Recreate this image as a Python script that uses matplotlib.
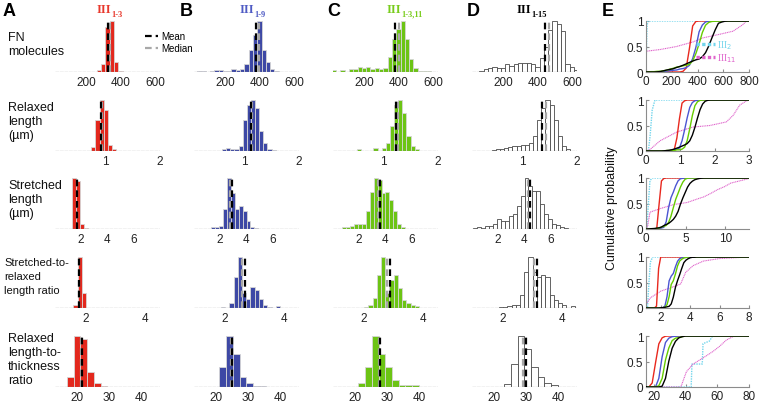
import numpy as np
import matplotlib.pyplot as plt
from matplotlib.lines import Line2D

W, H = 760, 406

# bin edges, one set per row
fn_edges = 12.5 + 25 * np.arange(26)
rl_edges = 0.075 * np.arange(1, 28)
sl_edges = 0.15 + 0.3 * np.arange(28)
ratio_edges = np.arange(7, 33) / 7
lt_edges = 2.1 * np.arange(7, 23)

# counts (relative bar heights) for III1-3, III1-9, III1-3,11, III1-15
fn_13 = [0, 0, 0, 0, 0, 0, 0, 0, 0, 0, 3, 15, 88, 100, 20, 2, 0, 0, 0, 0, 0, 0, 0, 0, 0]
fn_19 = [0, 1, 1, 0, 1, 3, 3, 2, 2, 6, 3, 6, 15, 43, 72, 100, 43, 20, 5, 1, 0, 0, 0, 0, 0]
fn_1311 = [3, 0, 3, 0, 5, 5, 10, 7, 10, 5, 7, 5, 8, 30, 65, 85, 100, 65, 25, 8, 2, 1, 1, 0, 0]
fn_115 = [0, 0, 2, 5, 8, 10, 7, 8, 15, 12, 15, 17, 17, 17, 15, 10, 27, 50, 82, 100, 95, 80, 15, 10, 3]

rl_13 = [0, 0, 0, 0, 0, 0, 0, 0, 0, 8, 60, 100, 80, 12, 4, 0, 0, 0, 0, 0, 0, 0, 0, 0, 0, 0]
rl_19 = [0, 0, 0, 0, 0, 0, 0, 3, 5, 4, 3, 10, 60, 90, 100, 85, 40, 15, 4, 2, 0, 0, 0, 0, 0, 0]
rl_1311 = [0, 0, 0, 0, 0, 0, 4, 0, 0, 0, 5, 0, 5, 15, 50, 90, 100, 75, 30, 10, 3, 0, 0, 0, 0, 0]
rl_115 = [0, 0, 0, 0, 0, 2, 3, 3, 5, 8, 10, 10, 12, 12, 15, 30, 60, 85, 100, 90, 60, 30, 10, 3, 0, 0]

sl_13 = [0, 0, 0, 0, 100, 95, 10, 2] + [0] * 19
sl_19 = [0, 0, 0, 0, 3, 4, 5, 40, 100, 70, 40, 45, 35, 15, 3, 2] + [0] * 11
sl_1311 = [0, 0, 3, 3, 5, 10, 10, 10, 35, 72, 100, 97, 70, 72, 57, 35, 10, 3] + [0] * 9
sl_115 = [2, 3, 2, 5, 5, 10, 20, 15, 15, 25, 30, 45, 65, 100, 85, 75, 75, 50, 30, 20, 10, 8, 4, 2, 0, 0, 0]

ratio_13 = [0, 0, 0, 0, 5, 100, 30] + [0] * 18
ratio_19 = [0, 0, 0, 0, 0, 0, 2, 0, 10, 60, 100, 30, 17, 42, 35, 17, 5, 2, 0, 3, 0, 0, 0, 0, 0]
ratio_1311 = [0, 0, 0, 0, 0, 0, 0, 2, 5, 20, 65, 100, 30, 55, 65, 40, 15, 10, 5, 3, 0, 0, 0, 0, 0]
ratio_115 = [0, 0, 0, 0, 0, 0, 2, 2, 3, 5, 5, 25, 70, 100, 70, 60, 65, 60, 25, 15, 10, 5, 0, 3, 0]

lt_13 = [0, 20, 100, 95, 30, 8, 1, 0, 0, 0, 0, 0, 0, 0, 0]
lt_19 = [0, 0, 0, 40, 100, 65, 20, 7, 2, 1, 0, 0, 0, 0, 0]
lt_1311 = [0, 0, 0, 7, 40, 100, 65, 40, 13, 4, 4, 4, 0, 0, 0]
lt_115 = [0, 0, 0, 0, 5, 45, 100, 75, 40, 20, 7, 4, 0, 0, 0]

# mean / median per construct
fn_mean = [330, 382, 379, 442]
fn_median = [337, 395, 402, 468]
rl_mean = [0.93, 1.12, 1.23, 1.37]
rl_median = [0.94, 1.14, 1.27, 1.43]
sl_mean = [1.72, 2.97, 3.6, 4.45]
sl_median = [1.75, 2.8, 3.5, 4.3]
ratio_mean = [1.77, 2.68, 2.88, 3.15]
ratio_median = [1.76, 2.57, 2.78, 3.05]
lt_mean = [21.5, 24.9, 27.9, 29.9]
lt_median = [21.1, 24.5, 27.5, 28.9]

# cumulative curves of the single domains III2 and III11
iii2_fn_x = [0, 3, 8, 15, 800]
iii2_fn_y = [0, 0.4, 0.9, 1, 1]
iii11_fn_x = [0, 3, 10, 108, 237, 366, 444, 573, 676, 753, 779, 800]
iii11_fn_y = [0, 0.39, 0.41, 0.44, 0.5, 0.59, 0.67, 0.74, 0.8, 0.93, 1, 1]
iii2_rl_x = [0, 0.07, 0.12, 0.18, 0.26, 3]
iii2_rl_y = [0, 0, 0.3, 0.8, 1, 1]
iii11_rl_x = [0, 0.1, 0.41, 0.89, 1.37, 1.86, 2.34, 2.54, 2.73, 2.92, 3]
iii11_rl_y = [0, 0.02, 0.2, 0.37, 0.47, 0.5, 0.57, 0.7, 0.9, 0.98, 1]
iii2_sl_x = [0, 0.1, 0.3, 0.5, 0.8, 13]
iii2_sl_y = [0, 0, 0.5, 0.95, 1, 1]
iii11_sl_x = [0, 0.2, 0.5, 1.8, 3.5, 5.2, 6.5, 7.3, 8.2, 9, 9.9, 10.7, 12, 13]
iii11_sl_y = [0, 0.05, 0.33, 0.4, 0.48, 0.52, 0.59, 0.63, 0.7, 0.77, 0.83, 0.9, 0.95, 0.99]
iii2_ratio_x = [1, 1.1, 1.2, 1.3, 1.45, 8]
iii2_ratio_y = [0, 0, 0.5, 0.9, 1, 1]
iii11_ratio_x = [1, 1.3, 2.0, 2.7, 3.35, 3.7, 4.2, 4.9, 6, 8]
iii11_ratio_y = [0.07, 0.2, 0.33, 0.4, 0.47, 0.7, 0.83, 0.92, 0.97, 1]
iii2_lt_x = [15, 43.5, 44, 50.5, 51, 55, 57, 80]
iii2_lt_y = [0, 0, 0.45, 0.45, 0.85, 0.9, 1, 1]
iii11_lt_x = [15, 37, 40.5, 44.7, 51, 57.4, 61.5, 65.7, 70, 80]
iii11_lt_y = [0, 0, 0.3, 0.45, 0.57, 0.7, 0.8, 0.92, 0.99, 1]

row_labels = ["FN\nmolecules", "Relaxed\nlength\n(\u00b5m)", "Stretched\nlength\n(\u00b5m)",
              "Stretched-to-\nrelaxed\nlength ratio", "Relaxed\nlength-to-\nthickness\nratio"]

rows = [
    (fn_edges, [fn_13, fn_19, fn_1311, fn_115], fn_mean, fn_median, (20, 630), [200, 400, 600],
     (0, 800), [0, 200, 400, 600, 800], (iii2_fn_x, iii2_fn_y), (iii11_fn_x, iii11_fn_y)),
    (rl_edges, [rl_13, rl_19, rl_1311, rl_115], rl_mean, rl_median, (0.09, 2.0), [1, 2],
     (0, 3), [0, 1, 2, 3], (iii2_rl_x, iii2_rl_y), (iii11_rl_x, iii11_rl_y)),
    (sl_edges, [sl_13, sl_19, sl_1311, sl_115], sl_mean, sl_median, (0.1, 8.0), [2, 4, 6],
     (0, 13), [0, 5, 10], (iii2_sl_x, iii2_sl_y), (iii11_sl_x, iii11_sl_y)),
    (ratio_edges, [ratio_13, ratio_19, ratio_1311, ratio_115], ratio_mean, ratio_median, (0.95, 4.5), [2, 4],
     (1, 8), [2, 4, 6, 8], (iii2_ratio_x, iii2_ratio_y), (iii11_ratio_x, iii11_ratio_y)),
    (lt_edges, [lt_13, lt_19, lt_1311, lt_115], lt_mean, lt_median, (13, 46), [20, 30, 40],
     (15, 80), [20, 40, 60, 80], (iii2_lt_x, iii2_lt_y), (iii11_lt_x, iii11_lt_y)),
]

face_colors = ["#e3281d", "#3d48a5", "#6cc414", "white"]
edge_colors = ["#d6d6d6", "#d6d6d6", "#d6d6d6", "#4a4a4a"]
line_colors = ["#e8281e", "#4b55d2", "#66cc00", "black"]
title_colors = ["#e8382c", "#4f5bc4", "#78cc1c", "black"]
title_subs = ["1-3", "1-9", "1-3,11", "1-15"]
cyan = "#72d5ec"
magenta = "#df63cb"

plt.rcParams["font.family"] = ["Liberation Sans", "DejaVu Sans"]

fig = plt.figure(figsize=(W / 100, H / 100), dpi=100)

row_base = [73, 152, 230, 309, 388]
row_h = 51
col_left = [55, 194, 333, 472]
col_w = 105
e_left, e_w = 646, 103


def px_axes(left, base, width, height):
    return fig.add_axes([left / W, 1 - base / H, width / W, height / H])


top_axes = []
for r, (edges, counts, means, medians, xlim, ticks, exlim, exticks, c2, c11) in enumerate(rows):
    for c in range(4):
        ax = px_axes(col_left[c], row_base[r], col_w, row_h)
        cnt = np.asarray(counts[c], dtype=float)
        ax.bar(edges[:-1], cnt, width=np.diff(edges), align="edge",
               color=face_colors[c], edgecolor=edge_colors[c], linewidth=0.6, zorder=2)
        ax.axhline(0, color="#9a9a9a", lw=0.9, ls=(0, (3, 0.6)), zorder=3)
        ax.axvline(medians[c], color="#a8a8a8", lw=1.6, ls=(0, (3, 1.8)), zorder=4)
        ax.axvline(means[c], color="black", lw=1.6, ls=(0, (3, 1.8)), zorder=4)
        ax.set_xlim(*xlim)
        ax.set_ylim(0, cnt.max())
        ax.set_xticks(ticks)
        ax.set_xticklabels([f"{t:g}" for t in ticks])
        ax.set_yticks([])
        ax.tick_params(axis="x", length=0, pad=3, labelsize=8.5, labelcolor="#222222")
        for s in ax.spines.values():
            s.set_visible(False)
        if r == 0:
            top_axes.append(ax)

    # cumulative distributions
    ax = px_axes(e_left, row_base[r], e_w, row_h)
    for c in range(4):
        cnt = np.asarray(counts[c], dtype=float)
        cdf = np.concatenate([[0], np.cumsum(cnt) / cnt.sum()])
        xs = np.concatenate([[exlim[0]], edges, [exlim[1]]])
        ys = np.concatenate([[0], cdf, [1]])
        ax.plot(xs, ys, color=line_colors[c], lw=1.0, zorder=3)
    ax.plot(c2[0], c2[1], color=cyan, lw=1.0, ls=(0, (1, 0.8)), zorder=2)
    ax.plot(c11[0], c11[1], color=magenta, lw=0.8, ls=(0, (1, 0.6)), zorder=2)
    ax.set_xlim(*exlim)
    ax.set_ylim(0, 1)
    ax.set_xticks(exticks)
    ax.set_yticks([0, 0.5, 1])
    ax.set_yticklabels(["0", "0.5", "1"])
    ax.spines["top"].set_visible(False)
    ax.spines["right"].set_visible(False)
    ax.spines["left"].set_color("#8c8c8c")
    ax.spines["bottom"].set_color("#8c8c8c")
    ax.tick_params(direction="in", length=2, color="#8c8c8c", labelsize=8.5, labelcolor="#222222", pad=2)
    if r == 0:
        key = [Line2D([], [], color=cyan, lw=2.4, ls=(0, (1, 0.7)), label="III$_2$"),
               Line2D([], [], color=magenta, lw=2.4, ls=(0, (1, 0.7)), label="III$_{11}$")]
        leg = ax.legend(handles=key, loc="lower right", bbox_to_anchor=(0.93, 0.06), frameon=False,
                        handlelength=2.0, handletextpad=0.2, labelspacing=0.05, borderpad=0,
                        prop={"family": "Liberation Serif", "size": 7})
        for t, col in zip(leg.get_texts(), [cyan, magenta]):
            t.set_color(col)

# row labels
row_centres = [45, 122, 200, 277, 360]
row_sizes = [9, 9, 9, 8, 9]
row_x = [8, 8, 8, 4, 8]
for lab, yc, fs, xl in zip(row_labels, row_centres, row_sizes, row_x):
    fig.text(xl / W, 1 - yc / H, lab, ha="left", va="center", fontsize=fs,
             linespacing=1.25 if fs == 9 else 1.45, color="#111111")

fig.text(612 / W, 1 - 208 / H, "Cumulative probability", rotation=90, ha="center", va="center",
         fontsize=9, color="#111111")

# panel letters
for letter, xl in zip("ABCDE", [3, 180, 327, 467, 602]):
    fig.text(xl / W, 1 - 12 / H, letter, ha="left", va="center", fontsize=13, fontweight="bold")

# column titles: III with subscript
title_x = [97, 240, 387, 517]
for ax, xt, sub, col in zip(top_axes, title_x, title_subs, title_colors):
    t = fig.text(xt / W, 1 - 10 / H, "III", ha="left", va="center", color=col,
                 fontsize=9, fontweight="bold", family="Liberation Serif")
    ax.annotate(sub, xy=(1, 0), xycoords=t, xytext=(-0.3, 1.0), textcoords="offset points",
                ha="left", va="center", color=col, fontsize=6, fontweight="bold",
                family="Liberation Serif")

# mean / median key
handles = [Line2D([], [], color="black", lw=1.6, ls=(0, (3, 1.8)), label="Mean"),
           Line2D([], [], color="#a8a8a8", lw=1.6, ls=(0, (3, 1.8)), label="Median")]
top_axes[0].legend(handles=handles, loc="upper left", bbox_to_anchor=(145 / W, 1 - 32 / H),
                   bbox_transform=fig.transFigure, frameon=False, fontsize=7, handlelength=1.3,
                   handletextpad=0.4, labelspacing=0.25, borderpad=0, borderaxespad=0)

fig.savefig("out.png", dpi=100)
